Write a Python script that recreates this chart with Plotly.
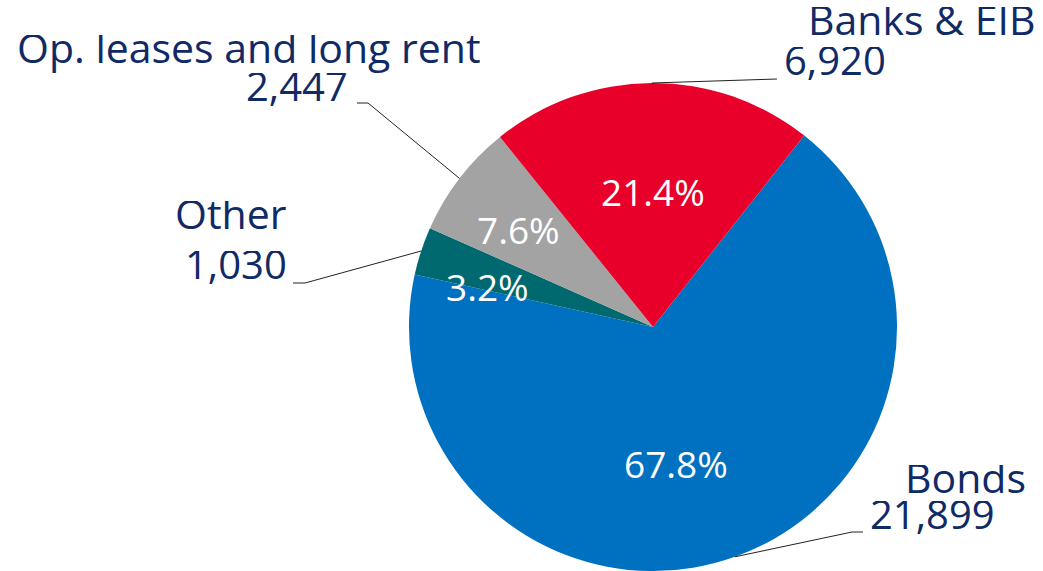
import math
import plotly.graph_objects as go

# ---- data ----
categories = ["Bonds", "Other", "Op. leases and long rent", "Banks & EIB"]
values = [21899, 1030, 2447, 6920]
colors = ["#0070C0", "#00686F", "#A3A3A3", "#E8002A"]

W, H = 1043, 571
CX, CY, R = 653, 327, 244
ROT = 38.3
TEXT = "#102A66"
FONT = "Open Sans"

total = sum(values)
pct = [v / total * 100 for v in values]

fig = go.Figure(go.Pie(
    labels=categories, values=values, sort=False, direction="clockwise",
    rotation=ROT, marker=dict(colors=colors, line=dict(width=0)),
    textinfo="none", hoverinfo="label+value+percent", showlegend=False,
    domain=dict(x=[(CX - R) / W, (CX + R) / W], y=[(H - CY - R) / H, (H - CY + R) / H]),
))

def px(x, y):
    return x / W, 1 - y / H

# mid angles of slices (clockwise from 12 o'clock)
mids = []
a = ROT
for v in values:
    span = v / total * 360
    mids.append(a + span / 2)
    a += span

def edge(i):
    ang = math.radians(mids[i])
    return CX + R * math.sin(ang), CY - R * math.cos(ang)

# percent label positions (pixels) and outer label layout
pct_pos = [(676, 463), (487, 286), (518, 229), (653, 191)]
DY = 7
name_pos = [(1028, 478 + DY, "right"), (289, 214 + DY, "right"), (15, 48 + DY, "left"), (1037, 20 + DY, "right")]
val_pos = [(868, 514 + DY, "left"), (289, 264 + DY, "right"), (350, 86 + DY, "right"), (782, 60 + DY, "left")]
# leader line elbows: (elbow point, end point)
leaders = [((852, 532), (863, 532)), ((305, 283), (293, 283)), ((368, 103), (357, 103)), (None, (777, 79))]

ann = []
for i, c in enumerate(categories):
    x, y = px(*pct_pos[i])
    ann.append(dict(x=x, y=y, xref="paper", yref="paper", text=f"{pct[i]:.1f}%", showarrow=False,
                    font=dict(family=FONT, size=37, color="white"), xanchor="center", yanchor="middle"))
    nx, ny, na = name_pos[i]
    x, y = px(nx, ny)
    ann.append(dict(x=x, y=y, xref="paper", yref="paper", text=c, showarrow=False,
                    height=40, valign="bottom",
                    font=dict(family=FONT, size=41, color=TEXT), xanchor=na, yanchor="middle"))
    vx, vy, va = val_pos[i]
    x, y = px(vx, vy)
    ann.append(dict(x=x, y=y, xref="paper", yref="paper", text=f"{values[i]:,}", showarrow=False,
                    height=40, valign="bottom",
                    font=dict(family=FONT, size=40, color=TEXT), xanchor=va, yanchor="middle"))

shapes = []
for i in range(len(values)):
    ex, ey = edge(i)
    elbow, end = leaders[i]
    pts = [(ex, ey)] + ([elbow] if elbow else []) + [end]
    path = "M " + " L ".join(f"{p[0] / W},{1 - p[1] / H}" for p in pts)
    shapes.append(dict(type="path", xref="paper", yref="paper", path=path,
                       line=dict(color="#222222", width=1)))

fig.update_layout(
    width=W, height=H, margin=dict(l=0, r=0, t=0, b=0),
    paper_bgcolor="white", plot_bgcolor="white",
    annotations=ann, shapes=shapes,
)
fig.write_html("out.html", config={"displayModeBar": False},
               post_script="document.body.style.margin='0';")
